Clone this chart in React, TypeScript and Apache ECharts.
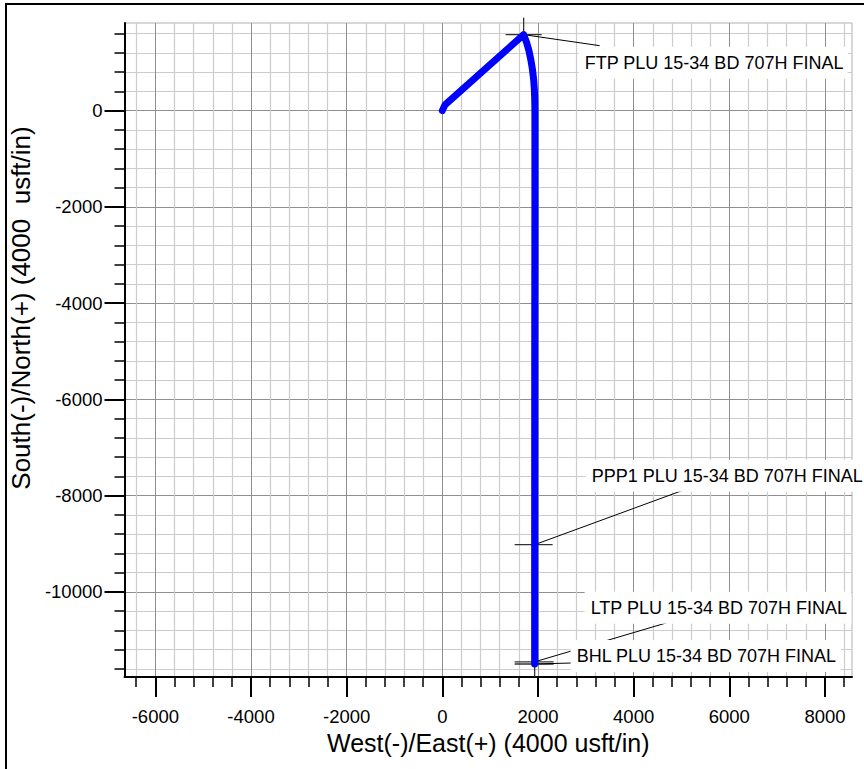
import React, { useEffect, useRef } from 'react';
import * as echarts from 'echarts';

// Well trajectory (plan view): East (+) / North (+), usft
const trajectoryEast = [0, 55, 1700, 1760, 1810, 1850, 1885, 1910, 1925, 1932, 1935, 1935, 1932, 1930, 1930, 1930];
const trajectoryNorth = [0, 120, 1580, 1420, 1250, 1060, 850, 640, 430, 220, 0, -2000, -4500, -9020, -11455, -11500];

// Targets
const targetNames = [
  'FTP PLU 15-34 BD 707H FINAL',
  'PPP1 PLU 15-34 BD 707H FINAL',
  'LTP PLU 15-34 BD 707H FINAL',
  'BHL PLU 15-34 BD 707H FINAL',
];
const targetEast = [1700, 1930, 1930, 1930];
const targetNorth = [1580, -9020, -11455, -11500];

// Axes
const xTickValues = [-6000, -4000, -2000, 0, 2000, 4000, 6000, 8000];
const yTickValues = [-10000, -8000, -6000, -4000, -2000, 0];
const xMin = -6645;
const xMax = 8565;
const yMin = -11770;
const yMax = 1822;
const xTitle = 'West(-)/East(+) (4000 usft/in)';
const yTitle = 'South(-)/North(+) (4000  usft/in)';

// label placement (pixel offsets from each target)
const labelLayout = [
  { leader: [76, 11], text: [61, 27], hTick: [-18, 18], vTick: [-17, 0] },
  { leader: [150, -55], text: [57, -70], hTick: [-20, 18], vTick: null },
  { leader: [132, -39], text: [56, -55], hTick: [-20, 19], vTick: null },
  { leader: [37, -1], text: [42, -9], hTick: [-20, 19], vTick: [-12, 13] },
];

const FONT = '"Liberation Sans", Arial, Helvetica, sans-serif';

export default function App() {
  const ref = useRef<HTMLDivElement>(null);

  useEffect(() => {
    if (!ref.current) return;
    const chart = echarts.init(ref.current, null, { renderer: 'svg' });

    const traj = trajectoryEast.map((x, i) => [x, trajectoryNorth[i]]);
    const targets = targetEast.map((x, i) => [x, targetNorth[i]]);

    const padL = 6, padR = 4, padT = 6, padB = 8;

    const option: any = {
      animation: false,
      backgroundColor: '#ffffff',
      grid: {
        left: 121,
        top: 23,
        right: 12,
        bottom: 92,
        show: true,
        borderColor: '#b0b0b0',
        borderWidth: 1,
        backgroundColor: 'transparent',
      },
      xAxis: {
        type: 'value',
        min: xMin,
        max: xMax,
        splitNumber: 7,
        minInterval: 2000,
        maxInterval: 2000,
        name: xTitle,
        nameLocation: 'middle',
        nameGap: 53,
        nameTextStyle: { fontSize: 25, color: '#000', fontFamily: FONT },
        axisLine: { show: true, onZero: false, lineStyle: { color: '#000', width: 2 } },
        axisTick: {
          show: true,
          length: 20,
          customValues: xTickValues,
          lineStyle: { color: '#000', width: 2 },
        },
        minorTick: { show: true, splitNumber: 5, length: 10, lineStyle: { color: '#000', width: 1.5 } },
        axisLabel: {
          customValues: xTickValues,
          formatter: (v: number) => String(v),
          margin: 30,
          fontSize: 18.5,
          color: '#000',
          fontFamily: FONT,
        },
        splitLine: { show: true, lineStyle: { color: '#8f8f8f', width: 1 } },
        minorSplitLine: { show: true, lineStyle: { color: '#cccccc', width: 1.2 } },
      },
      yAxis: {
        type: 'value',
        min: yMin,
        max: yMax,
        splitNumber: 7,
        minInterval: 2000,
        maxInterval: 2000,
        name: yTitle,
        nameLocation: 'middle',
        nameRotate: 90,
        nameGap: 77,
        nameTextStyle: { fontSize: 26, color: '#000', fontFamily: FONT, padding: [0, 0, 0, 84] },
        axisLine: { show: true, onZero: false, lineStyle: { color: '#000', width: 2 } },
        axisTick: {
          show: true,
          length: 20,
          customValues: yTickValues,
          lineStyle: { color: '#000', width: 2 },
        },
        minorTick: { show: true, splitNumber: 5, length: 10, lineStyle: { color: '#000', width: 1.5 } },
        axisLabel: {
          customValues: yTickValues,
          formatter: (v: number) => String(v),
          margin: 22,
          fontSize: 18.5,
          color: '#000',
          fontFamily: FONT,
        },
        splitLine: { show: true, lineStyle: { color: '#8f8f8f', width: 1 } },
        minorSplitLine: { show: true, lineStyle: { color: '#cccccc', width: 1.2 } },
      },
      graphic: [
        {
          type: 'rect',
          silent: true,
          shape: { x: 6, y: 4, width: 920, height: 820 },
          style: { fill: 'none', stroke: '#000', lineWidth: 2 },
          z: 100,
        },
      ],
      series: [
        {
          type: 'custom',
          z: 2,
          clip: false,
          data: targets,
          encode: { x: 0, y: 1 },
          renderItem: (params: any, api: any) => {
            const i = params.dataIndex;
            const p = api.coord([api.value(0), api.value(1)]);
            const L = labelLayout[i];
            const children: any[] = [];
            children.push({
              type: 'line',
              shape: { x1: p[0] + L.hTick[0], y1: p[1], x2: p[0] + L.hTick[1], y2: p[1] },
              style: { stroke: '#333', lineWidth: 1.3 },
            });
            if (L.vTick) {
              children.push({
                type: 'line',
                shape: { x1: p[0], y1: p[1] + L.vTick[0], x2: p[0], y2: p[1] + L.vTick[1] },
                style: { stroke: '#333', lineWidth: 1.3 },
              });
            }
            children.push({
              type: 'line',
              shape: { x1: p[0], y1: p[1], x2: p[0] + L.leader[0], y2: p[1] + L.leader[1] },
              style: { stroke: '#000', lineWidth: 1 },
            });
            children.push({
              type: 'text',
              x: p[0] + L.text[0] - padL,
              y: p[1] + L.text[1] - (padT - padB) / 2,
              style: {
                text: targetNames[i],
                font: '18px ' + FONT,
                fill: '#000',
                align: 'left',
                verticalAlign: 'middle',
                backgroundColor: '#ffffff',
                padding: [padT, padR, padB, padL],
              },
            });
            return { type: 'group', children };
          },
        },
        {
          type: 'line',
          z: 3,
          data: traj,
          showSymbol: false,
          symbol: 'none',
          smooth: false,
          lineStyle: { color: '#0000ff', width: 7, cap: 'round', join: 'round' },
          silent: true,
        },
      ],
    };

    chart.setOption(option);
    return () => {
      chart.dispose();
    };
  }, []);

  return (
    <div
      ref={ref}
      style={{ position: 'fixed', left: 0, top: 0, width: 864, height: 769, background: '#fff' }}
    />
  );
}
